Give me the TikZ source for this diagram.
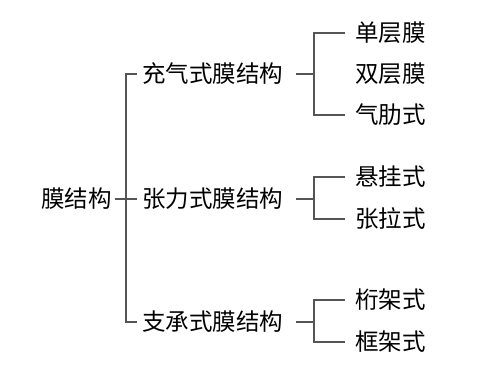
\documentclass[tikz,border=0pt]{standalone}
\usepackage{fontspec}
\newfontfamily\cjk{Noto Sans CJK SC}
\definecolor{lineg}{RGB}{85,85,85}
\begin{document}
\begin{tikzpicture}[x=1pt,y=-1pt,
  lbl/.style={inner sep=0pt,font=\cjk\fontsize{23.5}{24}\selectfont,text=black},
  conn/.style={draw=lineg,line width=1.6pt}]
\useasboundingbox[fill=white] (0,0) rectangle (500,391);
% nodes
\node[lbl,anchor=east] (root) at (112,199) {膜结构};
\node[lbl,anchor=west] (a) at (142,74) {充气式膜结构};
\node[lbl,anchor=west] (b) at (142,199) {张力式膜结构};
\node[lbl,anchor=west] (c) at (142,322) {支承式膜结构};
\node[lbl,anchor=west] (a1) at (355,33) {单层膜};
\node[lbl,anchor=west] (a2) at (355,74) {双层膜};
\node[lbl,anchor=west] (a3) at (355,115) {气肋式};
\node[lbl,anchor=west] (b1) at (355,177) {悬挂式};
\node[lbl,anchor=west] (b2) at (355,219) {张拉式};
\node[lbl,anchor=west] (c1) at (355,300) {桁架式};
\node[lbl,anchor=west] (c2) at (355,342) {框架式};
% junctions
\coordinate (j0) at (126,199);
\coordinate (ja) at (314,74);
\coordinate (jb) at (314,199);
\coordinate (jc) at (314,322);
% connectors
\draw[conn,shorten <=3pt] (root.east) -- (j0);
\draw[conn,shorten >=5pt] (j0) |- (a.west);
\draw[conn,shorten >=5pt] (j0) |- (b.west);
\draw[conn,shorten >=5pt] (j0) |- (c.west);
\draw[conn,shorten <=13pt] (a.east) -- (ja);
\draw[conn,shorten <=13pt] (b.east) -- (jb);
\draw[conn,shorten <=13pt] (c.east) -- (jc);
\draw[conn,shorten >=10pt] (ja) |- (a1.west);
\draw[conn,shorten >=10pt] (ja) |- (a3.west);
\draw[conn,shorten >=10pt] (jb) |- (b1.west);
\draw[conn,shorten >=10pt] (jb) |- (b2.west);
\draw[conn,shorten >=10pt] (jc) |- (c1.west);
\draw[conn,shorten >=10pt] (jc) |- (c2.west);
\end{tikzpicture}
\end{document}
